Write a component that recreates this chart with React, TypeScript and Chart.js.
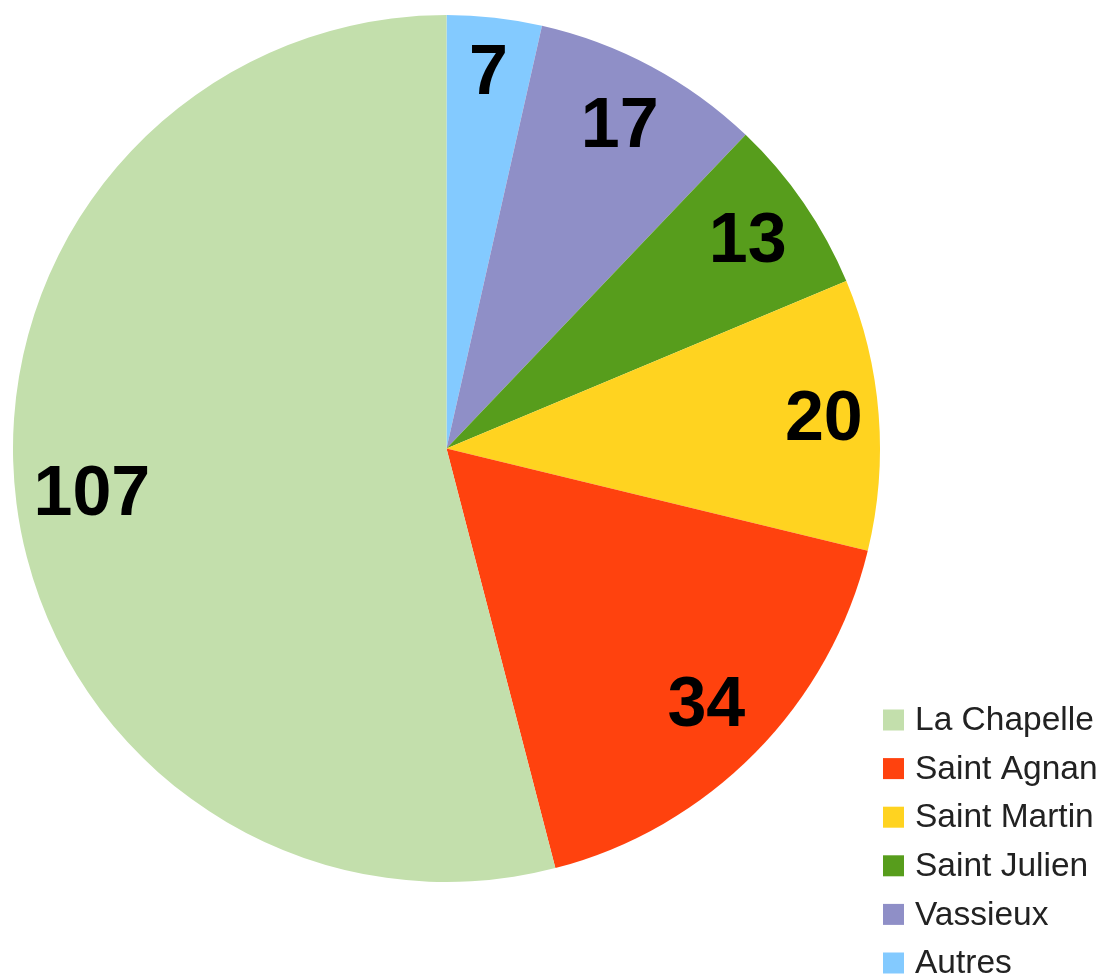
import React, { useEffect, useRef } from "react";
import { Chart, registerables } from "chart.js";

Chart.register(...registerables);

const categories = ["La Chapelle", "Saint Agnan", "Saint Martin", "Saint Julien", "Vassieux", "Autres"];
const values = [107, 34, 20, 13, 17, 7];
const colors = ["#c3dfac", "#ff420e", "#ffd320", "#579d1c", "#8f8fc7", "#83caff"];

const LABEL_FONT = "bold 70px 'Liberation Sans', Arial, sans-serif";
const LEGEND_FONT = "33.5px 'Liberation Sans', Arial, sans-serif";

const valueLabels = {
  id: "valueLabels",
  afterDatasetsDraw(chart: any) {
    const meta = chart.getDatasetMeta(0);
    const ds = chart.data.datasets[0];
    const ctx = chart.ctx;
    ctx.save();
    ctx.font = LABEL_FONT;
    ctx.fillStyle = "#000";
    ctx.textAlign = "center";
    ctx.textBaseline = "middle";
    meta.data.forEach((arc: any, i: number) => {
      const p = arc.getProps(["x", "y", "startAngle", "endAngle", "outerRadius"], true);
      const mid = (p.startAngle + p.endAngle) / 2;
      const text = String(ds.data[i]);
      const w = ctx.measureText(text).width;
      const h = 70 * 0.72;
      const proj = Math.abs(Math.cos(mid)) * w / 2 + Math.abs(Math.sin(mid)) * h / 2;
      const pad = 13 + 15 * Math.abs(Math.sin(mid));
      const r = p.outerRadius - pad - proj;
      ctx.fillText(text, p.x + Math.cos(mid) * r, p.y + Math.sin(mid) * r + 2);
    });
    ctx.restore();
  },
};

const customLegend = {
  id: "customLegend",
  afterDraw(chart: any) {
    const ctx = chart.ctx;
    const area = chart.chartArea;
    ctx.save();
    ctx.font = LEGEND_FONT;
    ctx.textAlign = "left";
    ctx.textBaseline = "middle";
    const x0 = area.right + 3;
    const y0 = 720;
    const step = 48.6;
    categories.forEach((name, i) => {
      const cy = y0 + i * step;
      ctx.fillStyle = colors[i];
      ctx.fillRect(x0, cy - 10.5, 21, 21);
      ctx.fillStyle = "#222";
      ctx.fillText(name, x0 + 32, cy + 1);
    });
    ctx.restore();
  },
};

export default function App() {
  const ref = useRef<HTMLCanvasElement>(null);
  useEffect(() => {
    if (!ref.current) return;
    const order = categories.map((_, i) => i).reverse();
    const chart = new Chart(ref.current, {
      type: "pie",
      data: {
        labels: order.map((i) => categories[i]),
        datasets: [
          {
            data: order.map((i) => values[i]),
            backgroundColor: order.map((i) => colors[i]),
            borderWidth: 0,
            hoverOffset: 0,
            offset: 0,
          },
        ],
      },
      options: {
        responsive: false,
        animation: false,
        events: [],
        layout: { padding: { left: 13, right: 220, top: 15, bottom: 94 } },
        plugins: {
          legend: { display: false },
          tooltip: { enabled: false },
        },
      },
      plugins: [valueLabels, customLegend],
    });
    return () => chart.destroy();
  }, []);
  return (
    <div style={{ position: "fixed", left: 0, top: 0, width: 1100, height: 976, overflow: "hidden", background: "#fff" }}>
      <canvas ref={ref} width={1100} height={976} style={{ display: "block" }} />
    </div>
  );
}
